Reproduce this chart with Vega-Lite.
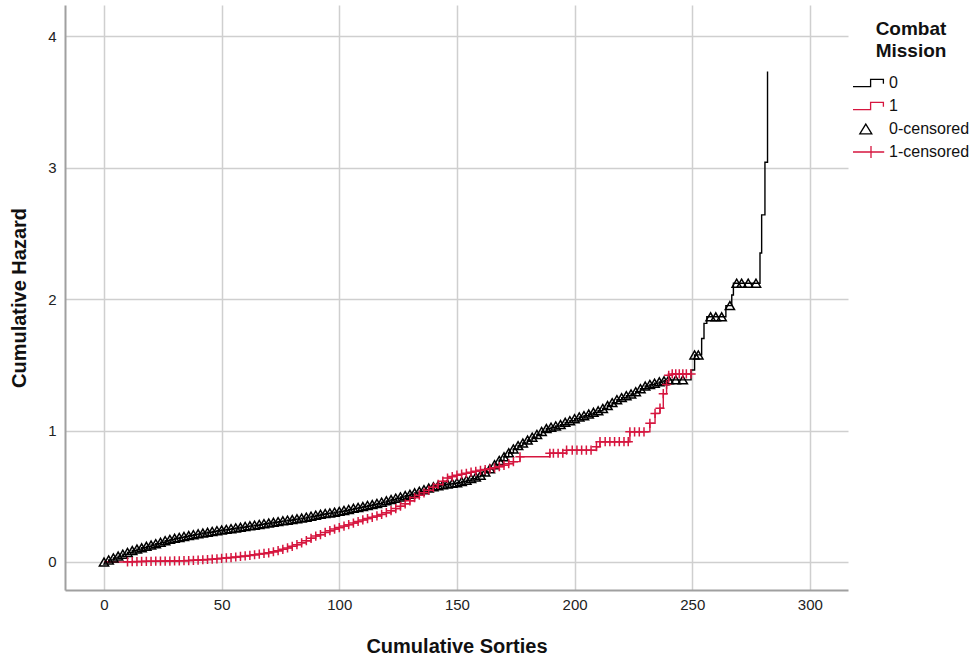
{
"$schema": "https://vega.github.io/schema/vega-lite/v6.json",
"width": 783, "height": 585,
"autosize": {"type": "none"},
"padding": {"left": 65, "top": 5, "right": 132, "bottom": 69},
"background": "white",
"config": {
  "view": {"stroke": null},
  "font": "Liberation Sans",
  "axis": {"grid": true, "gridColor": "#cfcfcf", "gridWidth": 1.5, "domainColor": "#a0a0a0", "domainWidth": 2, "ticks": false,
           "labelFont": "Liberation Sans", "labelFontSize": 15, "labelColor": "#222222",
           "titleFont": "Liberation Sans", "titleFontSize": 20, "titleFontWeight": "bold", "titleColor": "#111111"},
  "legend": {"padding": 0}
},
"data": {"values": [
{"x":0,"h":0,"g":"0","m":"0-censored"},{"x":2,"h":0.016,"g":"0","m":"0-censored"},{"x":4,"h":0.031,"g":"0","m":"0-censored"},{"x":6,"h":0.045,"g":"0","m":"0-censored"},{"x":8,"h":0.059,"g":"0","m":"0-censored"},{"x":10,"h":0.073,"g":"0","m":"0-censored"},{"x":12,"h":0.087,"g":"0","m":"0-censored"},{"x":14,"h":0.098,"g":"0","m":"0-censored"},{"x":16,"h":0.108,"g":"0","m":"0-censored"},{"x":18,"h":0.119,"g":"0","m":"0-censored"},
{"x":20,"h":0.129,"g":"0","m":"0-censored"},{"x":22,"h":0.139,"g":"0","m":"0-censored"},{"x":24,"h":0.15,"g":"0","m":"0-censored"},{"x":26,"h":0.162,"g":"0","m":"0-censored"},{"x":28,"h":0.172,"g":"0","m":"0-censored"},{"x":30,"h":0.18,"g":"0","m":"0-censored"},{"x":32,"h":0.187,"g":"0","m":"0-censored"},{"x":34,"h":0.194,"g":"0","m":"0-censored"},{"x":36,"h":0.201,"g":"0","m":"0-censored"},{"x":38,"h":0.208,"g":"0","m":"0-censored"},
{"x":40,"h":0.214,"g":"0","m":"0-censored"},{"x":42,"h":0.22,"g":"0","m":"0-censored"},{"x":44,"h":0.226,"g":"0","m":"0-censored"},{"x":46,"h":0.232,"g":"0","m":"0-censored"},{"x":48,"h":0.238,"g":"0","m":"0-censored"},{"x":50,"h":0.243,"g":"0","m":"0-censored"},{"x":52,"h":0.248,"g":"0","m":"0-censored"},{"x":54,"h":0.253,"g":"0","m":"0-censored"},{"x":56,"h":0.259,"g":"0","m":"0-censored"},{"x":58,"h":0.264,"g":"0","m":"0-censored"},
{"x":60,"h":0.27,"g":"0","m":"0-censored"},{"x":62,"h":0.275,"g":"0","m":"0-censored"},{"x":64,"h":0.28,"g":"0","m":"0-censored"},{"x":66,"h":0.286,"g":"0","m":"0-censored"},{"x":68,"h":0.291,"g":"0","m":"0-censored"},{"x":70,"h":0.296,"g":"0","m":"0-censored"},{"x":72,"h":0.302,"g":"0","m":"0-censored"},{"x":74,"h":0.307,"g":"0","m":"0-censored"},{"x":76,"h":0.313,"g":"0","m":"0-censored"},{"x":78,"h":0.318,"g":"0","m":"0-censored"},
{"x":80,"h":0.323,"g":"0","m":"0-censored"},{"x":82,"h":0.328,"g":"0","m":"0-censored"},{"x":84,"h":0.334,"g":"0","m":"0-censored"},{"x":86,"h":0.341,"g":"0","m":"0-censored"},{"x":88,"h":0.348,"g":"0","m":"0-censored"},{"x":90,"h":0.356,"g":"0","m":"0-censored"},{"x":92,"h":0.363,"g":"0","m":"0-censored"},{"x":94,"h":0.368,"g":"0","m":"0-censored"},{"x":96,"h":0.373,"g":"0","m":"0-censored"},{"x":98,"h":0.379,"g":"0","m":"0-censored"},
{"x":100,"h":0.385,"g":"0","m":"0-censored"},{"x":102,"h":0.392,"g":"0","m":"0-censored"},{"x":104,"h":0.4,"g":"0","m":"0-censored"},{"x":106,"h":0.408,"g":"0","m":"0-censored"},{"x":108,"h":0.415,"g":"0","m":"0-censored"},{"x":110,"h":0.422,"g":"0","m":"0-censored"},{"x":112,"h":0.43,"g":"0","m":"0-censored"},{"x":114,"h":0.437,"g":"0","m":"0-censored"},{"x":116,"h":0.445,"g":"0","m":"0-censored"},{"x":118,"h":0.455,"g":"0","m":"0-censored"},
{"x":120,"h":0.465,"g":"0","m":"0-censored"},{"x":122,"h":0.475,"g":"0","m":"0-censored"},{"x":124,"h":0.485,"g":"0","m":"0-censored"},{"x":126,"h":0.495,"g":"0","m":"0-censored"},{"x":128,"h":0.505,"g":"0","m":"0-censored"},{"x":130,"h":0.515,"g":"0","m":"0-censored"},{"x":132,"h":0.526,"g":"0","m":"0-censored"},{"x":134,"h":0.538,"g":"0","m":"0-censored"},{"x":136,"h":0.55,"g":"0","m":"0-censored"},{"x":138,"h":0.562,"g":"0","m":"0-censored"},
{"x":140,"h":0.572,"g":"0","m":"0-censored"},{"x":142,"h":0.58,"g":"0","m":"0-censored"},{"x":144,"h":0.587,"g":"0","m":"0-censored"},{"x":146,"h":0.593,"g":"0","m":"0-censored"},{"x":148,"h":0.598,"g":"0","m":"0-censored"},{"x":150,"h":0.603,"g":"0","m":"0-censored"},{"x":152,"h":0.612,"g":"0","m":"0-censored"},{"x":154,"h":0.622,"g":"0","m":"0-censored"},{"x":156,"h":0.634,"g":"0","m":"0-censored"},{"x":158,"h":0.647,"g":"0","m":"0-censored"},
{"x":160,"h":0.66,"g":"0","m":"0-censored"},{"x":162,"h":0.684,"g":"0","m":"0-censored"},{"x":164,"h":0.71,"g":"0","m":"0-censored"},{"x":166,"h":0.74,"g":"0","m":"0-censored"},{"x":168,"h":0.772,"g":"0","m":"0-censored"},{"x":170,"h":0.8,"g":"0","m":"0-censored"},{"x":172,"h":0.83,"g":"0","m":"0-censored"},{"x":174,"h":0.86,"g":"0","m":"0-censored"},{"x":176,"h":0.885,"g":"0","m":"0-censored"},{"x":178,"h":0.905,"g":"0","m":"0-censored"},
{"x":180,"h":0.927,"g":"0","m":"0-censored"},{"x":182,"h":0.949,"g":"0","m":"0-censored"},{"x":184,"h":0.97,"g":"0","m":"0-censored"},{"x":186,"h":0.993,"g":"0","m":"0-censored"},{"x":188,"h":1.015,"g":"0","m":"0-censored"},{"x":190,"h":1.025,"g":"0","m":"0-censored"},{"x":192,"h":1.035,"g":"0","m":"0-censored"},{"x":194,"h":1.045,"g":"0","m":"0-censored"},{"x":196,"h":1.062,"g":"0","m":"0-censored"},{"x":198,"h":1.075,"g":"0","m":"0-censored"},
{"x":200,"h":1.09,"g":"0","m":"0-censored"},{"x":202,"h":1.103,"g":"0","m":"0-censored"},{"x":204,"h":1.113,"g":"0","m":"0-censored"},{"x":206,"h":1.125,"g":"0","m":"0-censored"},{"x":208,"h":1.138,"g":"0","m":"0-censored"},{"x":210,"h":1.15,"g":"0","m":"0-censored"},{"x":212,"h":1.168,"g":"0","m":"0-censored"},{"x":214,"h":1.19,"g":"0","m":"0-censored"},{"x":216,"h":1.212,"g":"0","m":"0-censored"},{"x":218,"h":1.234,"g":"0","m":"0-censored"},
{"x":220,"h":1.25,"g":"0","m":"0-censored"},{"x":222,"h":1.265,"g":"0","m":"0-censored"},{"x":224,"h":1.278,"g":"0","m":"0-censored"},{"x":226,"h":1.295,"g":"0","m":"0-censored"},{"x":228,"h":1.318,"g":"0","m":"0-censored"},{"x":230,"h":1.338,"g":"0","m":"0-censored"},{"x":232,"h":1.35,"g":"0","m":"0-censored"},{"x":234,"h":1.36,"g":"0","m":"0-censored"},{"x":236,"h":1.37,"g":"0","m":"0-censored"},{"x":238,"h":1.378,"g":"0","m":"0-censored"},
{"x":240,"h":1.385,"g":"0","m":"0-censored"},{"x":243,"h":1.385,"g":"0","m":"0-censored"},{"x":246,"h":1.385,"g":"0","m":"0-censored"},{"x":249.5,"h":1.46,"g":"0"},{"x":251,"h":1.575,"g":"0","m":"0-censored"},{"x":252.6,"h":1.575,"g":"0","m":"0-censored"},{"x":254,"h":1.7,"g":"0"},{"x":255,"h":1.815,"g":"0"},{"x":256.2,"h":1.865,"g":"0"},{"x":257.8,"h":1.865,"g":"0","m":"0-censored"},
{"x":260,"h":1.865,"g":"0","m":"0-censored"},{"x":262.5,"h":1.865,"g":"0","m":"0-censored"},{"x":264.3,"h":1.95,"g":"0"},{"x":266,"h":1.95,"g":"0","m":"0-censored"},{"x":266.8,"h":2.03,"g":"0"},{"x":267.5,"h":2.12,"g":"0"},{"x":268.9,"h":2.12,"g":"0","m":"0-censored"},{"x":271,"h":2.12,"g":"0","m":"0-censored"},{"x":273.8,"h":2.12,"g":"0","m":"0-censored"},{"x":277.1,"h":2.12,"g":"0","m":"0-censored"},
{"x":278.8,"h":2.35,"g":"0"},{"x":279.5,"h":2.64,"g":"0"},{"x":280.9,"h":3.04,"g":"0"},{"x":282,"h":3.73,"g":"0"},
{"x":0,"h":0,"g":"1"},{"x":4,"h":0,"g":"1"},{"x":8,"h":0,"g":"1"},{"x":10,"h":0.001,"g":"1","m":"1-censored"},{"x":12,"h":0.002,"g":"1","m":"1-censored"},{"x":14,"h":0.003,"g":"1","m":"1-censored"},{"x":16,"h":0.004,"g":"1","m":"1-censored"},{"x":18,"h":0.005,"g":"1","m":"1-censored"},
{"x":20,"h":0.005,"g":"1","m":"1-censored"},{"x":22,"h":0.006,"g":"1","m":"1-censored"},{"x":24,"h":0.006,"g":"1","m":"1-censored"},{"x":26,"h":0.007,"g":"1","m":"1-censored"},{"x":28,"h":0.007,"g":"1","m":"1-censored"},{"x":30,"h":0.008,"g":"1","m":"1-censored"},{"x":32,"h":0.009,"g":"1","m":"1-censored"},{"x":34,"h":0.01,"g":"1","m":"1-censored"},{"x":36,"h":0.011,"g":"1","m":"1-censored"},{"x":38,"h":0.013,"g":"1","m":"1-censored"},
{"x":40,"h":0.015,"g":"1","m":"1-censored"},{"x":42,"h":0.017,"g":"1","m":"1-censored"},{"x":44,"h":0.019,"g":"1","m":"1-censored"},{"x":46,"h":0.021,"g":"1","m":"1-censored"},{"x":48,"h":0.024,"g":"1","m":"1-censored"},{"x":50,"h":0.028,"g":"1","m":"1-censored"},{"x":52,"h":0.031,"g":"1","m":"1-censored"},{"x":54,"h":0.034,"g":"1","m":"1-censored"},{"x":56,"h":0.038,"g":"1","m":"1-censored"},{"x":58,"h":0.042,"g":"1","m":"1-censored"},
{"x":60,"h":0.046,"g":"1","m":"1-censored"},{"x":62,"h":0.05,"g":"1","m":"1-censored"},{"x":64,"h":0.055,"g":"1","m":"1-censored"},{"x":66,"h":0.06,"g":"1","m":"1-censored"},{"x":68,"h":0.065,"g":"1","m":"1-censored"},{"x":70,"h":0.07,"g":"1","m":"1-censored"},{"x":72,"h":0.078,"g":"1","m":"1-censored"},{"x":74,"h":0.086,"g":"1","m":"1-censored"},{"x":76,"h":0.096,"g":"1","m":"1-censored"},{"x":78,"h":0.107,"g":"1","m":"1-censored"},
{"x":80,"h":0.119,"g":"1","m":"1-censored"},{"x":82,"h":0.132,"g":"1","m":"1-censored"},{"x":84,"h":0.146,"g":"1","m":"1-censored"},{"x":86,"h":0.162,"g":"1","m":"1-censored"},{"x":88,"h":0.18,"g":"1","m":"1-censored"},{"x":90,"h":0.197,"g":"1","m":"1-censored"},{"x":92,"h":0.208,"g":"1","m":"1-censored"},{"x":94,"h":0.225,"g":"1","m":"1-censored"},{"x":96,"h":0.238,"g":"1","m":"1-censored"},{"x":98,"h":0.25,"g":"1","m":"1-censored"},
{"x":100,"h":0.262,"g":"1","m":"1-censored"},{"x":102,"h":0.273,"g":"1","m":"1-censored"},{"x":104,"h":0.284,"g":"1","m":"1-censored"},{"x":106,"h":0.296,"g":"1","m":"1-censored"},{"x":108,"h":0.308,"g":"1","m":"1-censored"},{"x":110,"h":0.32,"g":"1","m":"1-censored"},{"x":112,"h":0.33,"g":"1","m":"1-censored"},{"x":114,"h":0.34,"g":"1","m":"1-censored"},{"x":116,"h":0.35,"g":"1","m":"1-censored"},{"x":118,"h":0.362,"g":"1","m":"1-censored"},
{"x":120,"h":0.375,"g":"1","m":"1-censored"},{"x":122,"h":0.39,"g":"1","m":"1-censored"},{"x":124,"h":0.406,"g":"1","m":"1-censored"},{"x":126,"h":0.424,"g":"1","m":"1-censored"},{"x":128,"h":0.442,"g":"1","m":"1-censored"},{"x":130,"h":0.465,"g":"1","m":"1-censored"},{"x":132,"h":0.49,"g":"1","m":"1-censored"},{"x":134,"h":0.508,"g":"1","m":"1-censored"},{"x":136,"h":0.526,"g":"1","m":"1-censored"},{"x":138,"h":0.545,"g":"1","m":"1-censored"},
{"x":140,"h":0.568,"g":"1","m":"1-censored"},{"x":142,"h":0.59,"g":"1","m":"1-censored"},{"x":144,"h":0.615,"g":"1","m":"1-censored"},{"x":146,"h":0.638,"g":"1","m":"1-censored"},{"x":148,"h":0.65,"g":"1","m":"1-censored"},{"x":150,"h":0.66,"g":"1","m":"1-censored"},{"x":152,"h":0.668,"g":"1","m":"1-censored"},{"x":154,"h":0.675,"g":"1","m":"1-censored"},{"x":156,"h":0.683,"g":"1","m":"1-censored"},{"x":158,"h":0.69,"g":"1","m":"1-censored"},
{"x":160,"h":0.697,"g":"1","m":"1-censored"},{"x":162,"h":0.703,"g":"1","m":"1-censored"},{"x":164,"h":0.709,"g":"1","m":"1-censored"},{"x":166,"h":0.716,"g":"1","m":"1-censored"},{"x":168,"h":0.725,"g":"1","m":"1-censored"},{"x":170,"h":0.735,"g":"1","m":"1-censored"},{"x":172,"h":0.748,"g":"1","m":"1-censored"},{"x":174,"h":0.763,"g":"1","m":"1-censored"},{"x":176.8,"h":0.8,"g":"1","m":"1-censored"},
{"x":189.5,"h":0.827,"g":"1","m":"1-censored"},{"x":191,"h":0.827,"g":"1","m":"1-censored"},{"x":193,"h":0.827,"g":"1","m":"1-censored"},{"x":195,"h":0.827,"g":"1","m":"1-censored"},{"x":196.6,"h":0.85,"g":"1","m":"1-censored"},{"x":199,"h":0.85,"g":"1","m":"1-censored"},{"x":201,"h":0.85,"g":"1","m":"1-censored"},{"x":203,"h":0.85,"g":"1","m":"1-censored"},{"x":205,"h":0.85,"g":"1","m":"1-censored"},{"x":207,"h":0.85,"g":"1","m":"1-censored"},
{"x":209.3,"h":0.877,"g":"1","m":"1-censored"},{"x":210.8,"h":0.915,"g":"1","m":"1-censored"},{"x":213,"h":0.915,"g":"1","m":"1-censored"},{"x":215,"h":0.915,"g":"1","m":"1-censored"},{"x":217,"h":0.915,"g":"1","m":"1-censored"},{"x":219,"h":0.915,"g":"1","m":"1-censored"},{"x":221,"h":0.915,"g":"1","m":"1-censored"},{"x":222.8,"h":0.915,"g":"1","m":"1-censored"},{"x":223.5,"h":0.99,"g":"1","m":"1-censored"},{"x":225.5,"h":0.99,"g":"1","m":"1-censored"},
{"x":227.5,"h":0.99,"g":"1","m":"1-censored"},{"x":229.5,"h":0.99,"g":"1","m":"1-censored"},{"x":232,"h":1.055,"g":"1","m":"1-censored"},{"x":234.2,"h":1.13,"g":"1","m":"1-censored"},{"x":236.3,"h":1.17,"g":"1","m":"1-censored"},{"x":237.7,"h":1.28,"g":"1","m":"1-censored"},{"x":239.1,"h":1.35,"g":"1","m":"1-censored"},{"x":240,"h":1.42,"g":"1","m":"1-censored"},{"x":241.5,"h":1.43,"g":"1","m":"1-censored"},{"x":243,"h":1.43,"g":"1","m":"1-censored"},
{"x":244.5,"h":1.43,"g":"1","m":"1-censored"},{"x":246,"h":1.43,"g":"1","m":"1-censored"},{"x":247.5,"h":1.43,"g":"1","m":"1-censored"},{"x":249.5,"h":1.43,"g":"1","m":"1-censored"}
]},
"encoding": {
  "x": {"field": "x", "type": "quantitative", "title": "Cumulative Sorties",
        "scale": {"domain": [-16.57, 316.2], "nice": false, "zero": false},
        "axis": {"values": [0, 50, 100, 150, 200, 250, 300], "labelPadding": 7, "titlePadding": 24}},
  "y": {"field": "h", "type": "quantitative", "title": "Cumulative Hazard",
        "scale": {"domain": [-0.213, 4.236], "nice": false, "zero": false},
        "axis": {"values": [0, 1, 2, 3, 4], "labelPadding": 9, "titlePadding": 18}}
},
"layer": [
  {"mark": {"type": "line", "interpolate": "step-after", "strokeWidth": 1.4},
   "encoding": {
     "color": {"field": "g", "type": "nominal", "title": ["Combat", "Mission"],
       "scale": {"domain": ["0", "1", "0-censored", "1-censored"], "range": ["#000000", "#d6163f", "#000000", "#d6163f"]},
       "legend": {"orient": "none", "legendX": 787, "legendY": 15, "symbolSize": 256, "labelOffset": 19,
         "labelFont": "Liberation Sans", "labelFontSize": 16, "labelColor": "#111111", "rowPadding": 6,
         "titleFont": "Liberation Sans", "titleFontSize": 19, "titleFontWeight": "bold", "titleColor": "#111111", "titleLineHeight": 22,
         "titleAnchor": "middle", "titleAlign": "center", "titlePadding": 13,
         "encode": {"symbols": {"update": {
           "shape": {"signal": "datum.value == '0-censored' ? 'M0.6,-0.62L1.35,0.62H-0.15Z' : datum.value == '1-censored' ? 'M-1,0H2.9M1.25,-0.75V0.75' : 'M-1,0.45H1.2V-0.45H2.8V0.1'"},
           "fill": {"value": "transparent"},
           "stroke": {"signal": "datum.value == '1' || datum.value == '1-censored' ? '#d6163f' : '#000000'"},
           "strokeWidth": {"value": 1.3}}}}}}
   }},
  {"transform": [{"filter": "isValid(datum.m)"}],
   "mark": {"type": "point", "filled": false, "strokeWidth": 1.5, "size": 85, "opacity": 1},
   "encoding": {
     "color": {"field": "m", "type": "nominal", "legend": null},
     "shape": {"field": "m", "type": "nominal", "legend": null,
       "scale": {"domain": ["0-censored", "1-censored"], "range": ["triangle-up", "M-1,0H1M0,-1V1"]}}
   }}
]
}
